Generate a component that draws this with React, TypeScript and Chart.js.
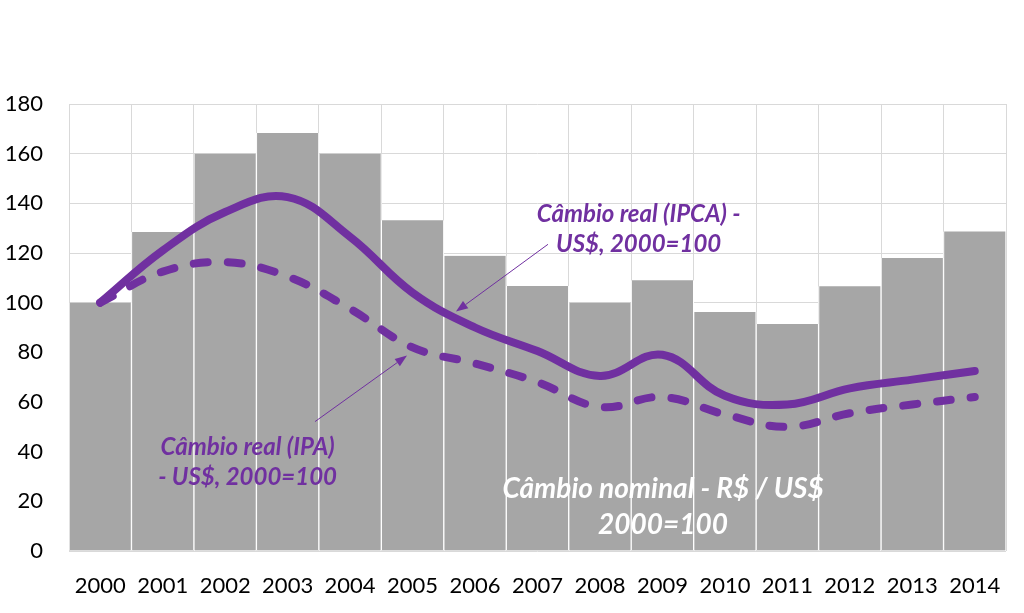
import React, { useEffect, useRef } from "react";
import { Chart, registerables } from "chart.js";

Chart.register(...registerables);

// ---- Data ----
const years = ["2000", "2001", "2002", "2003", "2004", "2005", "2006", "2007", "2008", "2009", "2010", "2011", "2012", "2013", "2014"];
const nominalBRLUSD = [100, 128.5, 160, 168.3, 160, 133.2, 118.9, 106.7, 100, 109, 96.2, 91.4, 106.6, 118, 128.7];
const realIPCA = [100, 121, 136.5, 142.5, 126.5, 104, 90, 80.5, 70.5, 79, 62.5, 59, 65.5, 69, 72.5];
const realIPA = [100, 112.5, 116.3, 110.5, 97.5, 82, 75.5, 68, 58, 62, 55, 50, 55.5, 59, 62];

const yMin = 0;
const yMax = 180;
const yStep = 20;

// Annotation texts (anchored in data coordinates: category index, value)
const labelIPCA = ["Câmbio real (IPCA) -", "US$, 2000=100"];
const labelIPA = ["Câmbio real (IPA)", "- US$, 2000=100"];
const labelNominal = ["Câmbio nominal - R$ / US$", "2000=100"];

const PURPLE = "#7030a0";
const BAR_GREY = "#a6a6a6";
const GRID = "#d9d9d9";

const annotationTexts = [
  { lines: labelIPCA, x: 8.62, ys: [135.6, 123.5], color: PURPLE, size: 24 },
  { lines: labelIPA, x: 2.36, ys: [41.6, 29.5], color: PURPLE, size: 24 },
  { lines: labelNominal, x: 9.01, ys: [25.0, 10.5], color: "#ffffff", size: 28 },
];

const arrows = [
  { from: [7.168, 123.5], to: [5.695, 96.4] },
  { from: [3.438, 52.1], to: [4.911, 78.7] },
];

const annotationPlugin = {
  id: "annotationsCustom",
  afterDatasetsDraw(chart: any) {
    const { ctx, scales } = chart;
    const xs = scales.x;
    const ys = scales.y;
    ctx.save();
    // arrows
    arrows.forEach((a) => {
      const x1 = xs.getPixelForValue(a.from[0]);
      const y1 = ys.getPixelForValue(a.from[1]);
      const x2 = xs.getPixelForValue(a.to[0]);
      const y2 = ys.getPixelForValue(a.to[1]);
      const ang = Math.atan2(y2 - y1, x2 - x1);
      const headLen = 12;
      const headW = 4.5;
      const bx = x2 - headLen * Math.cos(ang);
      const by = y2 - headLen * Math.sin(ang);
      ctx.strokeStyle = PURPLE;
      ctx.fillStyle = PURPLE;
      ctx.lineWidth = 1;
      ctx.beginPath();
      ctx.moveTo(x1, y1);
      ctx.lineTo(bx, by);
      ctx.stroke();
      ctx.beginPath();
      ctx.moveTo(x2, y2);
      ctx.lineTo(bx + headW * Math.sin(ang), by - headW * Math.cos(ang));
      ctx.lineTo(bx - headW * Math.sin(ang), by + headW * Math.cos(ang));
      ctx.closePath();
      ctx.fill();
    });
    // texts
    annotationTexts.forEach((t) => {
      ctx.font = `italic bold ${t.size}px Lato`;
      ctx.fillStyle = t.color;
      ctx.textAlign = "center";
      ctx.textBaseline = "middle";
      const px = xs.getPixelForValue(t.x);
      t.lines.forEach((line, i) => {
        ctx.fillText(line, px, ys.getPixelForValue(t.ys[i]));
      });
    });
    ctx.restore();
  },
};

export default function App() {
  const ref = useRef<HTMLCanvasElement>(null);

  useEffect(() => {
    document.body.style.margin = "0";
    const tickFont = { family: "Lato", size: 22 };
    const chart = new Chart(ref.current as HTMLCanvasElement, {
      type: "bar",
      data: {
        labels: years,
        datasets: [
          {
            type: "line",
            label: "Câmbio real (IPCA) - US$, 2000=100",
            data: realIPCA,
            borderColor: PURPLE,
            borderWidth: 8,
            tension: 0.4,
            pointRadius: 0,
            borderCapStyle: "round",
            borderJoinStyle: "round",
            fill: false,
            order: 1,
          } as any,
          {
            type: "line",
            label: "Câmbio real (IPA) - US$, 2000=100",
            data: realIPA,
            borderColor: PURPLE,
            borderWidth: 8,
            borderDash: [14, 20],
            tension: 0.4,
            pointRadius: 0,
            borderCapStyle: "round",
            borderJoinStyle: "round",
            fill: false,
            order: 2,
          } as any,
          {
            type: "bar",
            label: "Câmbio nominal - R$ / US$ 2000=100",
            data: nominalBRLUSD,
            backgroundColor: BAR_GREY,
            borderColor: "#ffffff",
            borderWidth: { left: 1, right: 1, top: 0, bottom: 0 },
            barPercentage: 1,
            categoryPercentage: 1,
            order: 3,
          } as any,
        ],
      },
      options: {
        animation: false,
        responsive: true,
        maintainAspectRatio: false,
        layout: { padding: { top: 104, right: 18, left: 0, bottom: 0 } },
        plugins: {
          legend: { display: false },
          tooltip: { enabled: false },
        },
        scales: {
          x: {
            type: "category",
            offset: true,
            grid: { color: GRID, offset: true, drawTicks: false },
            border: { display: false },
            ticks: { font: tickFont, color: "#000", padding: 22, maxRotation: 0, autoSkip: false },
            afterFit: (s: any) => {
              s.height = 62;
            },
          },
          y: {
            min: yMin,
            max: yMax,
            grid: { color: GRID, drawTicks: false },
            border: { display: false },
            ticks: { stepSize: yStep, font: tickFont, color: "#000", padding: 26 },
            afterFit: (s: any) => {
              s.width = 69;
            },
          },
        },
      } as any,
      plugins: [annotationPlugin],
    });
    return () => chart.destroy();
  }, []);

  return (
    <div style={{ position: "relative", width: 1024, height: 613 }}>
      <canvas ref={ref} />
    </div>
  );
}
